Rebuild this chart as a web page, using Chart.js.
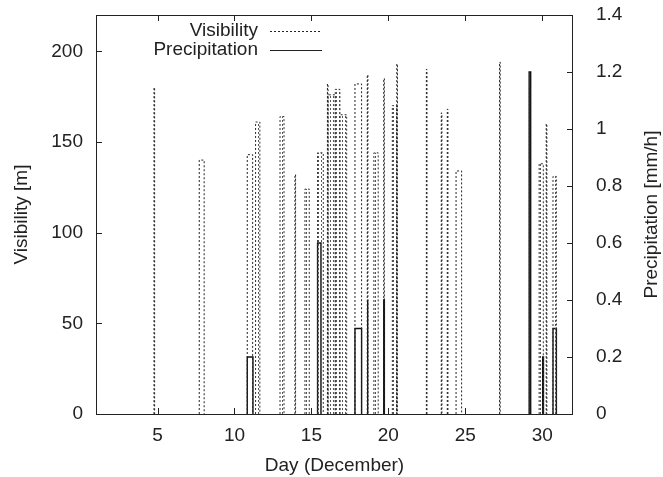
<!DOCTYPE html>
<html lang="en">
<head>
  <meta charset="UTF-8" />
  <title>Visibility and Precipitation</title>
  <script src="https://cdn.jsdelivr.net/npm/chart.js"></script>
  <style>
    body { margin: 0; background: #fff; }
    canvas { display: block; }
  </style>
</head>
<body>
  <canvas id="chart" width="663" height="477"></canvas>

  <script>
    // Isolated visibility records (start day, end day, value in m)
    const visStart = [4.77, 7.71, 10.83, 13.93, 16.04, 17.83, 18.63, 19.70, 20.55, 22.47, 23.44, 23.83, 24.40, 27.23, 29.18, 30.26];
    const visEnd   = [4.81, 8.03, 11.18, 13.97, 16.08, 18.26, 18.67, 19.74, 20.59, 22.51, 23.48, 23.87, 24.76, 27.27, 29.22, 30.30];
    const visValues = [180, 140, 143, 132, 182, 182, 187, 185, 193, 190, 166, 168, 134, 194, 180, 160];

    // Runs of consecutive hourly visibility records (drawn hatched)
    const runStart = [11.37, 12.96, 14.58, 15.40, 16.08, 16.55, 16.85, 19.06, 20.26, 29.80, 30.70];
    const runEnd   = [11.65, 13.22, 14.86, 15.77, 16.55, 16.85, 17.29, 19.34, 20.53, 30.07, 30.92];
    const runValues = [161, 164, 124, 144, 176, 179, 165, 144, 170, 138, 131];

    // Precipitation records (start day, end day, mm/h)
    const precStart = [10.83, 15.40, 17.83, 18.63, 19.70, 29.15, 30.03, 30.70];
    const precEnd   = [11.20, 15.62, 18.26, 18.67, 19.74, 29.25, 30.08, 30.92];
    const precValues = [0.2, 0.6, 0.3, 0.4, 0.4, 1.2, 0.2, 0.3];

    const xTicks = [5, 10, 15, 20, 25, 30];
    const yTicks = [0, 50, 100, 150, 200];
    const y2Ticks = [0, 0.2, 0.4, 0.6, 0.8, 1, 1.2, 1.4];

    const ink = "#222";
    const font = { family: "'Liberation Sans', Arial, sans-serif", size: 19 };

    // gnuplot-style boxes: outline of each record, gap between them
    function boxes(starts, ends, values) {
      const pts = [];
      starts.forEach((s, i) => {
        pts.push({ x: s, y: 0 }, { x: s, y: values[i] }, { x: ends[i], y: values[i] }, { x: ends[i], y: 0 }, { x: ends[i], y: null });
      });
      return pts;
    }

    const canvas = document.getElementById("chart");
    const ctx = canvas.getContext("2d");

    // vertical dotted hatching for the dense hourly runs
    const pc = document.createElement("canvas");
    pc.width = 3; pc.height = 4;
    const pctx = pc.getContext("2d");
    pctx.fillStyle = "#555";
    pctx.fillRect(0, 0, 1, 2);
    const hatch = ctx.createPattern(pc, "repeat");

    // force the plot box to sit where the reference has it
    const fixSize = (w, h) => (scale) => {
      if (w) { scale.width = w; scale.paddingTop = 0; scale.paddingBottom = 0; }
      if (h) { scale.height = h; scale.paddingLeft = 0; scale.paddingRight = 0; }
    };

    const frame = {
      id: "frame",
      afterDraw(chart) {
        const { ctx, chartArea: a, scales } = chart;
        ctx.save();
        ctx.strokeStyle = ink;
        ctx.lineWidth = 1;
        ctx.setLineDash([]);
        ctx.strokeRect(a.left + 0.5, a.top + 0.5, a.right - a.left - 1, a.bottom - a.top);
        const t = 6;
        ctx.beginPath();
        xTicks.forEach(v => {
          const x = Math.round(scales.x.getPixelForValue(v)) + 0.5;
          ctx.moveTo(x, a.bottom); ctx.lineTo(x, a.bottom - t);
          ctx.moveTo(x, a.top); ctx.lineTo(x, a.top + t);
        });
        yTicks.forEach(v => {
          const y = Math.round(scales.y.getPixelForValue(v)) + 0.5;
          ctx.moveTo(a.left, y); ctx.lineTo(a.left + t, y);
        });
        y2Ticks.forEach(v => {
          const y = Math.round(scales.y2.getPixelForValue(v)) + 0.5;
          ctx.moveTo(a.right, y); ctx.lineTo(a.right - t, y);
        });
        ctx.stroke();

        // key, gnuplot style: text then sample
        ctx.font = `${font.size}px ${font.family}`;
        ctx.fillStyle = ink;
        ctx.textAlign = "right";
        ctx.textBaseline = "middle";
        ctx.fillText("Visibility", 258, 31);
        ctx.fillText("Precipitation", 258, 50);
        ctx.beginPath();
        ctx.setLineDash([2, 2]);
        ctx.moveTo(270, 31.5); ctx.lineTo(322, 31.5);
        ctx.stroke();
        ctx.beginPath();
        ctx.setLineDash([]);
        ctx.moveTo(270, 50.5); ctx.lineTo(322, 50.5);
        ctx.stroke();

        // right axis title reads bottom to top
        ctx.translate(652, (a.top + a.bottom) / 2);
        ctx.rotate(-Math.PI / 2);
        ctx.textAlign = "center";
        ctx.fillText("Precipitation [mm/h]", 0, 0);
        ctx.restore();
      }
    };

    new Chart(canvas, {
      type: "line",
      data: {
        datasets: [
          {
            label: "Visibility",
            data: boxes(visStart, visEnd, visValues),
            yAxisID: "y",
            borderColor: ink,
            borderWidth: 1,
            borderDash: [2, 2],
            fill: false
          },
          {
            label: "Visibility runs",
            data: boxes(runStart, runEnd, runValues),
            yAxisID: "y",
            borderColor: "#333",
            borderWidth: 1,
            borderDash: [2, 2],
            backgroundColor: hatch,
            fill: "origin"
          },
          {
            label: "Precipitation",
            data: boxes(precStart, precEnd, precValues),
            yAxisID: "y2",
            borderColor: "#111",
            borderWidth: 1.4,
            fill: false
          }
        ]
      },
      options: {
        responsive: false,
        animation: false,
        devicePixelRatio: 1,
        layout: { padding: { top: 15 } },
        elements: { point: { radius: 0 }, line: { tension: 0 } },
        plugins: { legend: { display: false }, tooltip: { enabled: false } },
        scales: {
          x: {
            type: "linear",
            min: 1,
            max: 32,
            afterBuildTicks: s => { s.ticks = xTicks.map(v => ({ value: v })); },
            afterFit: fixSize(null, 63),
            grid: { display: false, drawTicks: false },
            border: { display: false },
            ticks: { font, color: ink, padding: 10, maxRotation: 0, autoSkip: false },
            title: { display: true, text: "Day (December)", font, color: ink, padding: { top: 6, bottom: 0 } }
          },
          y: {
            position: "left",
            min: 0,
            max: 220,
            afterBuildTicks: s => { s.ticks = yTicks.map(v => ({ value: v })); },
            afterFit: fixSize(96, null),
            grid: { display: false, drawTicks: false },
            border: { display: false },
            ticks: { font, color: ink, padding: 13 },
            title: { display: true, text: "Visibility [m]", font, color: ink, padding: { top: 10, bottom: 0 } }
          },
          y2: {
            position: "right",
            min: 0,
            max: 1.4,
            afterBuildTicks: s => { s.ticks = y2Ticks.map(v => ({ value: v })); },
            afterFit: fixSize(90, null),
            grid: { display: false, drawTicks: false },
            border: { display: false },
            ticks: { font, color: ink, padding: 23, callback: v => String(+v.toFixed(1)) }
          }
        }
      },
      plugins: [frame]
    });
  </script>
</body>
</html>
